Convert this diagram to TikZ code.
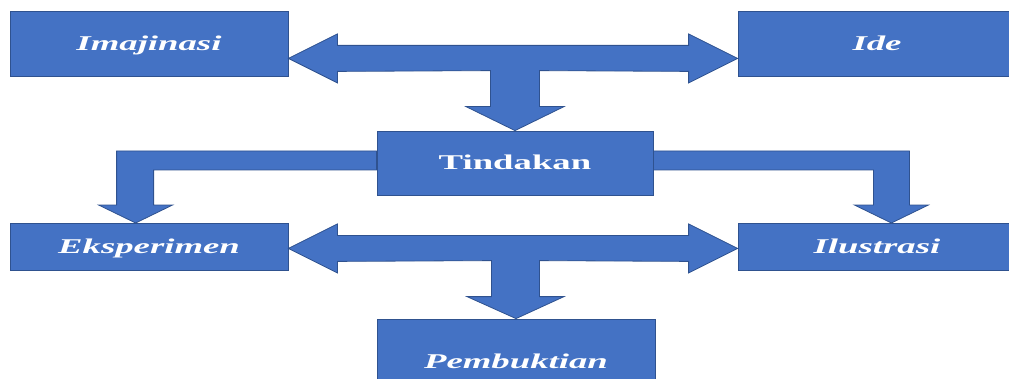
\documentclass[tikz,border=0pt]{standalone}
\usepackage{fontspec}
\setmainfont{Liberation Serif}
\usetikzlibrary{calc}
\definecolor{boxblue}{HTML}{4472C4}
\definecolor{edgeblue}{HTML}{2F528F}
\newcommand{\widetxt}[1]{\scalebox{1.75}[1]{#1}}
\tikzset{
    stagebox/.style={rectangle, fill=boxblue, draw=edgeblue, line width=0.8pt, text=white,
        inner sep=0pt, minimum width=278pt, text height=14pt, text depth=0pt,
        font=\fontsize{21}{25}\selectfont\bfseries\itshape},
    blockarrow/.style={fill=boxblue, draw=edgeblue, line width=0.8pt, line join=miter}
}

\begin{document}
\begin{tikzpicture}[x=1pt,y=1pt]
    \clip (0,0) rectangle (1009,378);
    \node[stagebox, minimum height=65pt] (imj) at (149,334.5) {\widetxt{Imajinasi}};
    \node[stagebox, minimum height=65pt] (ide) at (877,334.5) {\widetxt{Ide}};
    \node[stagebox, minimum width=276pt, minimum height=64pt, font=\fontsize{21}{25}\selectfont\bfseries] (tin) at (515,215) {\widetxt{Tindakan}};
    \node[stagebox, minimum height=47pt] (eks) at (149,131.5) {\widetxt{Eksperimen}};
    \node[stagebox, minimum height=47pt] (ilu) at (877,131.5) {\widetxt{Ilustrasi}};
    \node[stagebox, minimum height=84pt] (pem) at (516,17) {\widetxt{Pembuktian}};
    \coordinate (toprow) at ($(imj.south)+(0,18)$);
    \coordinate (botrow) at ($(eks.south)+(0,22)$);
    \draw[blockarrow] (imj.east |- toprow) -- ++(49,24.5) -- ++(0,-11.5) -- ($(ide.west |- toprow)+(-49,13)$) -- ++(0,11.5)
        -- (ide.west |- toprow) -- ++(-49,-24.5) -- ++(0,11.5) -- ($(tin.north)+(24.5,60)$) -- ++(0,-36) -- ++(24.5,0)
        -- (tin.north) -- ++(-49,24) -- ++(24.5,0) -- ++(0,36) -- ($(imj.east |- toprow)+(49,-13)$) -- ++(0,-11.5) -- cycle;
    \draw[blockarrow] (eks.east |- botrow) -- ++(49,24.5) -- ++(0,-11.5) -- ($(ilu.west |- botrow)+(-49,13)$) -- ++(0,11.5)
        -- (ilu.west |- botrow) -- ++(-49,-24.5) -- ++(0,11.5) -- ($(pem.north)+(23.5,58)$) -- ++(0,-36) -- ++(24.5,0)
        -- (pem.north) -- ++(-49,22) -- ++(24.5,0) -- ++(0,36) -- ($(eks.east |- botrow)+(49,-13)$) -- ++(0,-11.5) -- cycle;
    \draw[blockarrow] ($(tin.west)+(0,12)$) -- ++(-260,0) -- ++(0,-54) -- ++(-18,0) -- ++(37,-18) -- ++(37,18) -- ++(-19,0) -- ++(0,35) -- (tin.west |- {$(tin.west)+(0,-7)$}) -- cycle;
    \draw[blockarrow] ($(tin.east)+(0,12)$) -- ++(256,0) -- ++(0,-54) -- ++(19,0) -- ++(-37,-18) -- ++(-37,18) -- ++(19,0) -- ++(0,35) -- (tin.east |- {$(tin.east)+(0,-7)$}) -- cycle;
\end{tikzpicture}
\end{document}
